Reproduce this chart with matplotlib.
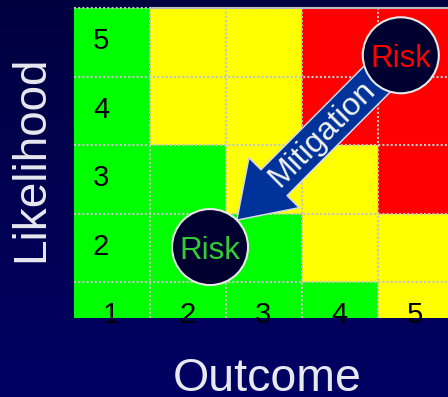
import numpy as np
import matplotlib
matplotlib.use("Agg")
import matplotlib.pyplot as plt
from matplotlib.colors import ListedColormap
from matplotlib.patches import Ellipse, FancyArrowPatch

plt.rcParams['font.family'] = ['Liberation Sans', 'DejaVu Sans']

# risk matrix data
outcome = [1, 2, 3, 4, 5]
likelihood = [1, 2, 3, 4, 5]
# level per cell: 0 = low (green), 1 = medium (yellow), 2 = high (red)
# rows are likelihood 1..5 (bottom to top), columns outcome 1..5
levels = [
    [0, 0, 0, 0, 1],
    [0, 0, 0, 1, 1],
    [0, 0, 1, 1, 2],
    [0, 1, 1, 2, 2],
    [0, 1, 1, 2, 2],
]
level_colors = ['#00ff00', '#ffff00', '#ff0000']

risk_before = (4.8, 4.81)   # (outcome, likelihood)
risk_after = (2.29, 2.01)
arrow_label = "Mitigation"

W, H = 448, 397
fig = plt.figure(figsize=(W / 100, H / 100), dpi=100)

# navy gradient background
bg = fig.add_axes([0, 0, 1, 1], zorder=0)
grad = np.linspace(0, 1, 256).reshape(-1, 1)
navy = np.column_stack([np.zeros(256), np.zeros(256), np.linspace(0.25, 0.39, 256)])
bg.imshow(grad, aspect='auto', extent=[0, 1, 0, 1], cmap=ListedColormap(navy), origin='upper')
bg.axis('off')

# grid axes (pixel layout: left 74, top 8, bottom 318, right cut at 448)
left, top, bottom = 74, 8, 318
ax = fig.add_axes([left / W, (H - bottom) / H, (W - left) / W, (bottom - top) / H], zorder=1)
col_w, row_h = 76.0, 68.5
ax.set_xlim(0.5, 0.5 + (W - left) / col_w)
ax.set_ylim(5.5 - (bottom - top) / row_h, 5.5)
ax.axis('off')

edges = np.arange(0.5, 6.0, 1.0)
ax.pcolormesh(edges, edges, np.array(levels), cmap=ListedColormap(level_colors),
              vmin=-0.5, vmax=2.5, shading='flat')

# dotted grid lines
dot = dict(color='#c4c4c4', lw=1.5, ls=(0, (1, 1)))
for v in edges[1:-1]:
    ax.axvline(v, **dot)
for v in edges[1:]:
    ax.axhline(v, clip_on=False, **dot)
ax.plot([1.5, 5.5], [5.5, 5.5], color='#b8b8c0', lw=1.5, clip_on=False)

# tick numbers inside the grid
for lk in likelihood[1:]:
    ax.text(0.855, lk - 0.1, str(lk), ha='center', va='baseline', fontsize=21, color='black')
for oc in outcome:
    ax.text(oc - 0.01, 0.90, str(oc), ha='center', va='baseline', fontsize=21,
            color='black', clip_on=False)

# mitigation arrow
r_px = 38
arrow = FancyArrowPatch(risk_before, risk_after,
                        arrowstyle='simple,head_length=38,head_width=51,tail_width=26.5',
                        mutation_scale=1, shrinkA=0, shrinkB=r_px * 0.72,
                        facecolor='#003399', edgecolor='#d8d8e8', lw=1.1, zorder=3)
ax.add_patch(arrow)
t = 0.41
mx = risk_before[0] + t * (risk_after[0] - risk_before[0])
my = risk_before[1] + t * (risk_after[1] - risk_before[1])
ax.text(mx, my, arrow_label, rotation=45, rotation_mode='anchor', ha='center', va='center',
        fontsize=23, color='#f4f4f4', zorder=4)

# risk circles
for (cx, cy), tc in [(risk_before, '#ff0000'), (risk_after, '#33cc33')]:
    ax.add_patch(Ellipse((cx, cy), 2 * r_px / col_w, 2 * r_px / row_h,
                         facecolor='#000030', edgecolor='#e8e8e8', lw=1.5, zorder=5, clip_on=False))
    ax.annotate("Risk", (cx, cy), xytext=(0, -12 * 0.72), textcoords='offset points',
                ha='center', va='baseline', fontsize=22.5, color=tc, zorder=6)

# axis titles
fig.text(43 / W, 1 - 159 / H, "Likelihood", rotation=90, rotation_mode='anchor',
         ha='center', va='baseline', fontsize=33, color='#e8e8f0', zorder=2)
fig.text(267 / W, 1 - 391 / H, "Outcome", ha='center', va='baseline',
         fontsize=33.5, color='#e8e8f0', zorder=2)

fig.savefig('out.png', dpi=100)
